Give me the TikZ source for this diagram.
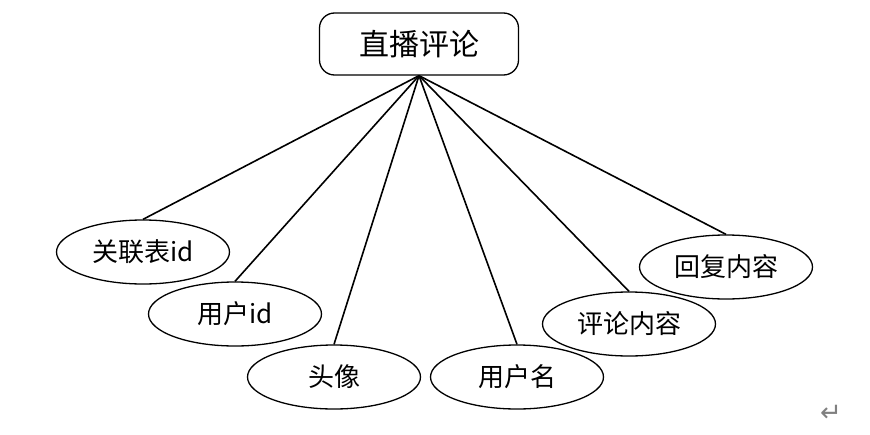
\documentclass[tikz,border=0pt]{standalone}
\usepackage{fontspec}
\newfontfamily\cjk{Noto Sans CJK SC}
\newfontfamily\symfont{DejaVu Sans}
\usetikzlibrary{shapes.geometric}

\begin{document}
\begin{tikzpicture}[x=1pt,y=-1pt,font=\cjk,line width=1.3pt,
  entity/.style={draw,rounded corners=15pt,minimum width=199pt,minimum height=62pt,inner sep=0pt,font=\cjk\fontsize{30}{32}\selectfont},
  attr/.style={draw,ellipse,minimum width=173pt,minimum height=64pt,inner sep=0pt,font=\cjk\fontsize{26}{28}\selectfont},
  link/.style={draw,line width=1.6pt}]
\useasboundingbox (0,0) rectangle (870,434);
\node[entity] (live) at (419,44) {直播评论};
\node[attr] (relid) at (143,252) {关联表id};
\node[attr] (uid) at (235,314) {用户id};
\node[attr] (avatar) at (334,377) {头像};
\node[attr] (uname) at (517,377) {用户名};
\node[attr] (content) at (629,324) {评论内容};
\node[attr] (reply) at (726,267) {回复内容};
\foreach \a in {relid,uid,avatar,uname,content,reply}
  \draw[link] (live.south) -- (\a.north);
\node[text=gray,font=\symfont\fontsize{26}{28}\selectfont] (ret) at (831,413) {↵};
\end{tikzpicture}
\end{document}
